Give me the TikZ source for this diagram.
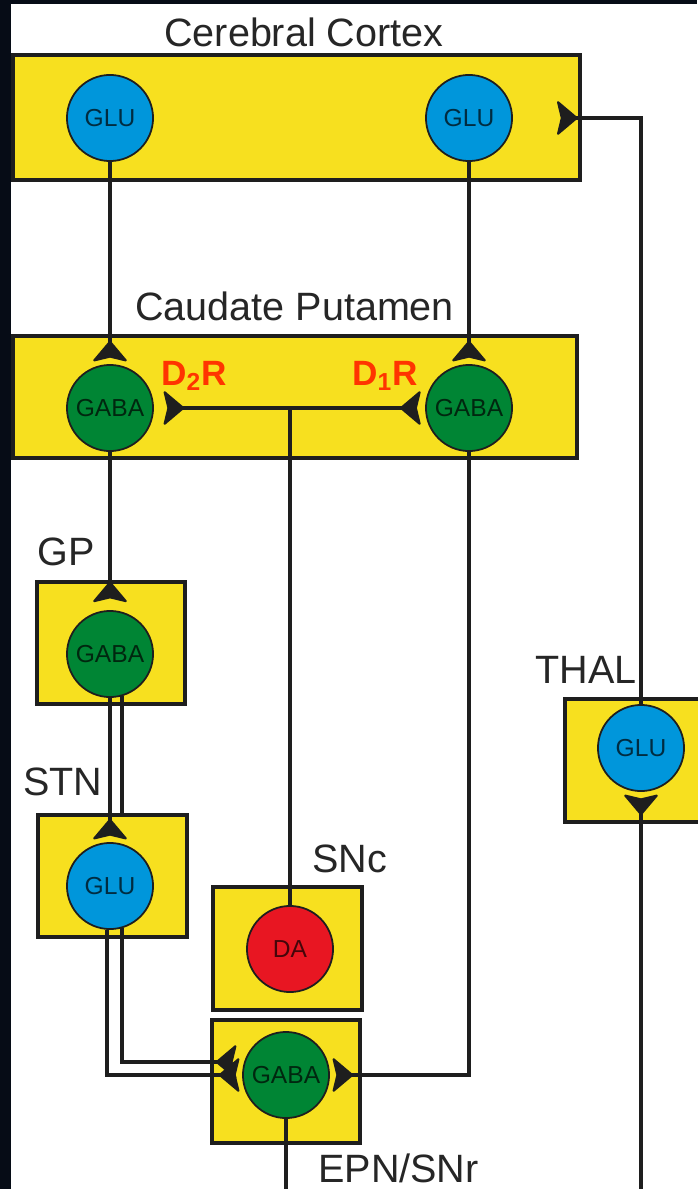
\documentclass[tikz,border=0pt]{standalone}
\usepackage{fontspec}
\setmainfont{Liberation Sans}
\usetikzlibrary{arrows.meta,calc}

\definecolor{boxyellow}{RGB}{247,224,31}
\definecolor{glublue}{RGB}{0,150,219}
\definecolor{gabagreen}{RGB}{0,133,52}
\definecolor{dared}{RGB}{232,22,34}
\definecolor{recorange}{RGB}{255,52,0}
\definecolor{inkgray}{RGB}{30,30,30}
\definecolor{night}{RGB}{6,12,22}

\tikzset{
  region/.style={fill=boxyellow,draw=inkgray,line width=1.8pt},
  cell/.style={circle,draw=inkgray,line width=1pt,minimum size=49pt,inner sep=0pt,
    font=\fontsize{14}{16}\selectfont,text=black,text opacity=0.7},
  glucell/.style={cell,fill=glublue},
  gabacell/.style={cell,fill=gabagreen},
  dacell/.style={cell,fill=dared},
  area/.style={anchor=base west,inner sep=0pt,font=\fontsize{22.5}{26}\selectfont,text=black!85},
  rec/.style={anchor=base west,inner sep=0pt,font=\fontsize{20}{24}\selectfont\bfseries,text=recorange},
  axon/.style={draw=inkgray,line width=1.8pt},
  syn/.style={axon,-{Stealth[reversed,length=12.5pt,width=21pt,inset=2.5pt,line width=1.2pt,round]},shorten >=1.5pt}
}

\begin{document}
\begin{tikzpicture}[x=0.02cm,y=-0.02cm]
\fill[night] (0,0) rectangle (697,1189);
\fill[white] (11,4) rectangle (697,1189);
\useasboundingbox (0,0) rectangle (697,1189);

% regions
\draw[region] (13,55) rectangle (580,180);
\draw[region] (13,336) rectangle (577,458);
\draw[region] (37,582) rectangle (185,704);
\draw[region] (38,815) rectangle (187,937);
\draw[region] (213,887) rectangle (362,1010);
\draw[region] (212,1020) rectangle (360,1143);
\draw[region] (565,699) rectangle (705,822);

% labels
\node[area] (ctxLbl) at (164,47) {Cerebral Cortex};
\node[area] (cpLbl) at (135,320) {Caudate Putamen};
\node[area] (gpLbl) at (37,565) {GP};
\node[area] (stnLbl) at (23,795) {STN};
\node[area] (sncLbl) at (312,872) {SNc};
\node[area] (thalLbl) at (535,683) {THAL};
\node[area] (epnLbl) at (318,1182) {EPN/SNr};
\node[rec] (d2Lbl) at (161,385) {D\textsubscript{2}R};
\node[rec] (d1Lbl) at (352,385) {D\textsubscript{1}R};

% cells
\node[glucell] (ctxL) at (110,118) {GLU};
\node[glucell] (ctxR) at (469,118) {GLU};
\node[gabacell] (cpL) at (110,408) {GABA};
\node[gabacell] (cpR) at (469,408) {GABA};
\node[gabacell] (gpC) at (110,654) {GABA};
\node[glucell] (stnC) at (110,886) {GLU};
\node[dacell] (sncC) at (290,949) {DA};
\node[gabacell] (epnC) at (286,1075) {GABA};
\node[glucell] (thalC) at (641,748) {GLU};

% free ends
\coordinate (gpR) at ($(gpC.south)+(12,-2)$);
\coordinate (stnTop) at (122,815);
\coordinate (stnOut) at ($(stnC.south)+(-3,0)$);
\coordinate (stnIn) at ($(stnC.south)+(12,-2)$);
\coordinate (epnOut) at (286,1195);
\coordinate (thalIn) at (641,1195);
\coordinate (ctxIn) at (557,118);

% pathways
\draw[syn] (ctxL) -- (cpL);
\draw[syn] (ctxR) -- (cpR);
\draw[syn,shorten >=4.5pt] (cpL) -- (gpC);
\draw[syn] (gpC) -- (stnC);
\draw[axon] (gpR) -- (stnTop);
\draw[syn] (stnOut) |- (epnC);
\draw[syn] (stnIn) |- ($(epnC.west)+(-3,-13)$);
\draw[syn] (cpR) |- (epnC);
\draw[syn,shorten >=5.5pt] (sncC) |- (cpL);
\draw[syn,shorten >=2.5pt] (sncC) |- (cpR);
\draw[axon] (epnC) -- (epnOut);
\draw[syn] (thalIn) -- (thalC);
\draw[syn,shorten >=0pt] (thalC) |- (ctxIn);
\end{tikzpicture}
\end{document}
